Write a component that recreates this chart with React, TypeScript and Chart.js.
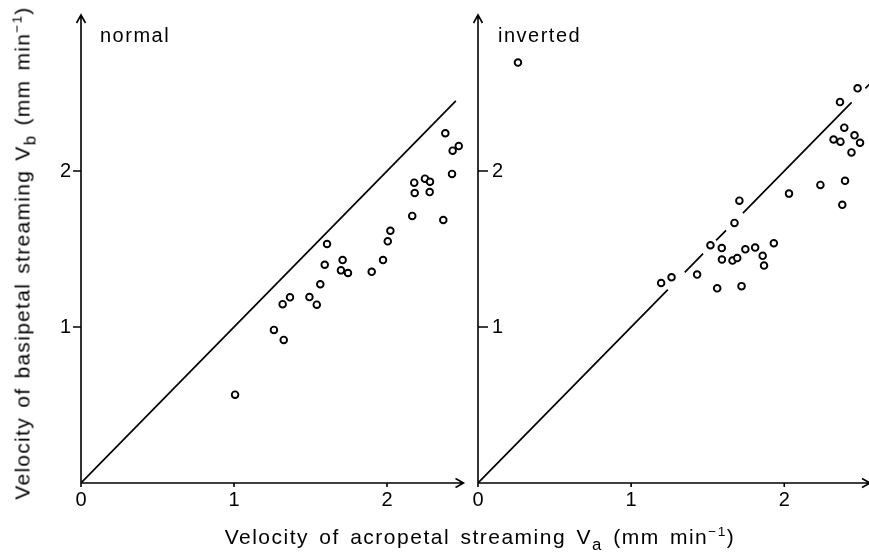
import React, { useEffect, useRef } from "react";
import { Chart, registerables } from "chart.js";

Chart.register(...registerables);

const FONT = "'Liberation Sans', Arial, sans-serif";

// Streaming velocities, normal orientation (mm min^-1)
const normalVa = [
  2.381, 2.469, 2.429, 2.425, 2.178, 2.248, 2.281, 2.181, 2.279, 2.165,
  2.368, 2.022, 2.005, 1.608, 1.593, 1.71, 1.699, 1.745, 1.9, 1.974,
  1.564, 1.366, 1.318, 1.493, 1.541, 1.261, 1.325, 1.007,
];
const normalVb = [
  2.242, 2.16, 2.13, 1.981, 1.925, 1.951, 1.931, 1.859, 1.865, 1.712,
  1.686, 1.617, 1.549, 1.532, 1.399, 1.429, 1.363, 1.346, 1.354, 1.429,
  1.274, 1.19, 1.146, 1.192, 1.143, 0.981, 0.917, 0.566,
];

// Streaming velocities, inverted orientation (mm min^-1)
const invertedVa = [
  2.479, 2.364, 2.392, 2.459, 2.495, 2.322, 2.367, 2.439, 2.397, 2.236,
  2.031, 2.379, 1.707, 1.675, 1.518, 1.592, 1.593, 1.662, 1.693, 1.746,
  1.81, 1.859, 1.868, 1.932, 1.431, 1.264, 1.196, 1.562, 1.721, 0.261,
];
const invertedVb = [
  2.53, 2.442, 2.278, 2.229, 2.181, 2.202, 2.188, 2.119, 1.937, 1.911,
  1.855, 1.783, 1.81, 1.667, 1.524, 1.506, 1.432, 1.426, 1.442, 1.498,
  1.509, 1.456, 1.394, 1.537, 1.336, 1.319, 1.282, 1.248, 1.262, 2.695,
];

const xTickValues = [0, 1, 2];
const yTickValues = [1, 2];

// Pieces of the line Vb = Va (the inverted one is broken around nearby circles)
const normalIdentity = [[0, 2.45]];
const invertedIdentity = [
  [0, 1.24],
  [1.35, 1.47],
  [1.555, 1.62],
  [1.73, 2.44],
  [2.53, 2.62],
];

type PanelCfg = {
  left: number;
  width: number;
  axisWidth: number;
  xMax: number;
  padRight: number;
  inward: boolean;
  va: number[];
  vb: number[];
  identity: number[][];
};

const axesPlugin = {
  id: "axesWithArrows",
  afterDatasetsDraw(chart: any, _args: any, opts: any) {
    const { ctx } = chart;
    const xs = chart.scales.x;
    const ys = chart.scales.y;
    const x0 = xs.getPixelForValue(0);
    const y0 = ys.getPixelForValue(0);
    const xEnd = xs.getPixelForValue(xs.max);
    const yEnd = ys.getPixelForValue(ys.max);
    ctx.save();
    ctx.strokeStyle = "#000";
    ctx.lineWidth = 1.6;
    ctx.beginPath();
    ctx.moveTo(x0, y0 + 4);
    ctx.lineTo(x0, yEnd);
    ctx.moveTo(x0, y0);
    ctx.lineTo(xEnd, y0);
    ctx.moveTo(x0 - 4.5, yEnd + 8);
    ctx.lineTo(x0, yEnd);
    ctx.lineTo(x0 + 4.5, yEnd + 8);
    ctx.moveTo(xEnd - 8, y0 - 4.5);
    ctx.lineTo(xEnd, y0);
    ctx.lineTo(xEnd - 8, y0 + 4.5);
    xTickValues.forEach((v) => {
      if (v === 0) return;
      const px = xs.getPixelForValue(v);
      ctx.moveTo(px, y0);
      ctx.lineTo(px, y0 + 4);
    });
    yTickValues.forEach((v) => {
      const py = ys.getPixelForValue(v);
      ctx.moveTo(x0, py);
      ctx.lineTo(x0 + (opts.inward ? 10 : -8), py);
    });
    ctx.stroke();
    ctx.restore();
  },
};

function identityPoints(pieces: number[][]) {
  const pts: { x: number; y: number | null }[] = [];
  pieces.forEach(([a, b]) => {
    pts.push({ x: a, y: a });
    pts.push({ x: b, y: b });
    pts.push({ x: b, y: null });
  });
  return pts;
}

function Panel({ cfg }: { cfg: PanelCfg }) {
  const ref = useRef<HTMLCanvasElement>(null);
  useEffect(() => {
    if (!ref.current) return;
    const tickFont = { family: FONT, size: 20 };
    const chart = new Chart(ref.current, {
      type: "scatter",
      data: {
        datasets: [
          {
            data: identityPoints(cfg.identity) as any,
            showLine: true,
            spanGaps: false,
            borderColor: "#000",
            borderWidth: 1.7,
            pointRadius: 0,
            order: 2,
          },
          {
            data: cfg.va.map((x, i) => ({ x, y: cfg.vb[i] })),
            pointRadius: 3.3,
            pointBorderWidth: 1.9,
            pointBorderColor: "#000",
            pointBackgroundColor: "#fff",
            order: 1,
          },
        ],
      },
      options: {
        animation: false,
        responsive: false,
        devicePixelRatio: 1,
        layout: { padding: { left: 0, top: 15, right: cfg.padRight, bottom: 31 } },
        plugins: {
          legend: { display: false },
          tooltip: { enabled: false },
          axesWithArrows: { inward: cfg.inward },
        } as any,
        scales: {
          x: {
            type: "linear",
            min: 0,
            max: cfg.xMax,
            grid: { display: false, drawTicks: false, tickLength: 0 },
            border: { display: false },
            afterBuildTicks: (s: any) => {
              s.ticks = xTickValues.map((v) => ({ value: v }));
            },
            afterFit: (s: any) => {
              s.height = 40;
              s.paddingLeft = 0;
              s.paddingRight = 0;
            },
            ticks: { padding: 5, color: "#000", font: tickFont, maxRotation: 0, autoSkip: false },
          },
          y: {
            type: "linear",
            position: "left",
            min: 0,
            max: 3,
            grid: { display: false, drawTicks: false, tickLength: 0 },
            border: { display: false },
            afterBuildTicks: (s: any) => {
              s.ticks = yTickValues.map((v) => ({ value: v }));
            },
            afterFit: (s: any) => {
              s.width = cfg.axisWidth;
              s.paddingTop = 0;
              s.paddingBottom = 0;
            },
            ticks: {
              mirror: cfg.inward,
              padding: cfg.inward ? 14 : 10,
              color: "#000",
              font: tickFont,
              autoSkip: false,
            },
          },
        },
      },
      plugins: [axesPlugin],
    });
    return () => chart.destroy();
  }, [cfg]);
  return (
    <canvas
      ref={ref}
      width={cfg.width}
      height={554}
      style={{ position: "absolute", left: cfg.left, top: 0, width: cfg.width, height: 554 }}
    />
  );
}

const normalPanel: PanelCfg = {
  left: 0,
  width: 470,
  axisWidth: 81,
  xMax: 2.5,
  padRight: 6.5,
  inward: false,
  va: normalVa,
  vb: normalVb,
  identity: normalIdentity,
};

const invertedPanel: PanelCfg = {
  left: 470,
  width: 420,
  axisWidth: 8,
  xMax: 2.56,
  padRight: 20,
  inward: true,
  va: invertedVa,
  vb: invertedVb,
  identity: invertedIdentity,
};

const textStyle: React.CSSProperties = {
  position: "absolute",
  fontFamily: FONT,
  fontSize: 20,
  lineHeight: "20px",
  letterSpacing: "1.5px",
  color: "#000",
  whiteSpace: "nowrap",
};

const subStyle: React.CSSProperties = { fontSize: "0.8em", verticalAlign: "-0.35em", lineHeight: 0 };
const supStyle: React.CSSProperties = { fontSize: "0.65em", verticalAlign: "0.6em", lineHeight: 0 };

export default function App() {
  return (
    <div
      style={{
        position: "absolute",
        left: 0,
        top: 0,
        width: 869,
        height: 554,
        overflow: "hidden",
        background: "#fff",
      }}
    >
      <Panel cfg={normalPanel} />
      <Panel cfg={invertedPanel} />
      <div style={{ ...textStyle, left: 100, top: 25 }}>normal</div>
      <div style={{ ...textStyle, left: 498, top: 25 }}>inverted</div>
      <div
        style={{
          ...textStyle,
          fontSize: 21,
          lineHeight: "21px",
          wordSpacing: "3px",
          left: 480,
          top: 526,
          transform: "translateX(-50%)",
        }}
      >
        Velocity of acropetal streaming V<span style={subStyle}>a</span> (mm min
        <span style={supStyle}>−1</span>)
      </div>
      <div
        style={{
          ...textStyle,
          fontSize: 21,
          lineHeight: "21px",
          letterSpacing: "1.3px",
          wordSpacing: "2px",
          left: 22,
          top: 253,
          transform: "translate(-50%, -50%) rotate(-90deg)",
        }}
      >
        Velocity of basipetal streaming V<span style={subStyle}>b</span> (mm min
        <span style={supStyle}>−1</span>)
      </div>
    </div>
  );
}
